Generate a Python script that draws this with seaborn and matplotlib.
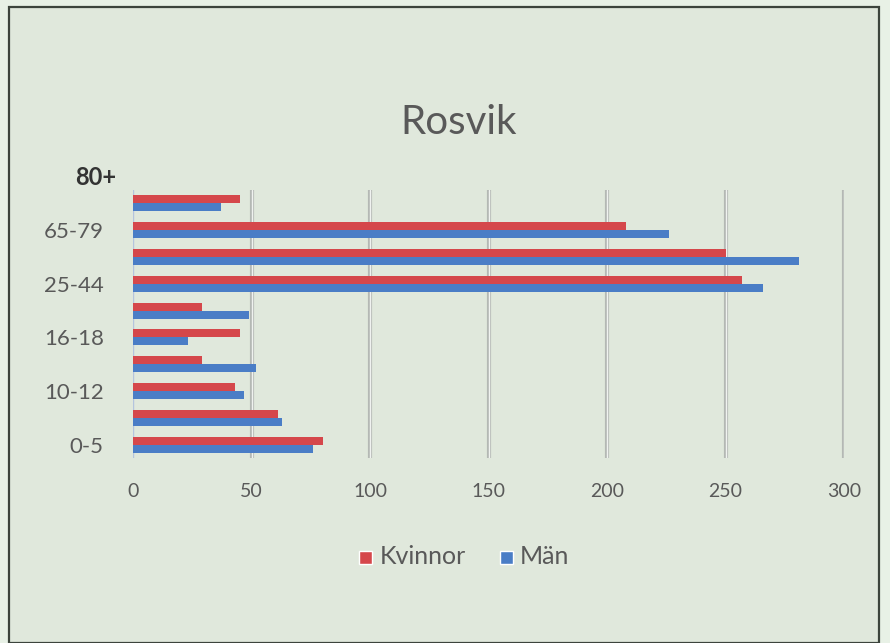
import pandas as pd
import seaborn as sns
import matplotlib.pyplot as plt
from matplotlib.patches import Rectangle

# data (top to bottom)
groups = ["80+", "65-79", "45-64", "25-44", "19-24", "16-18", "13-15", "10-12", "6-9", "0-5"]
kvinnor = [45, 208, 250, 257, 29, 45, 29, 43, 61, 80]
man = [37, 226, 281, 266, 49, 23, 52, 47, 63, 76]
shown_labels = ["", "65-79", "", "25-44", "", "16-18", "", "10-12", "", "0-5"]

df = pd.DataFrame({
    "grupp": groups * 2,
    "antal": kvinnor + man,
    "kon": ["Kvinnor"] * len(groups) + ["Män"] * len(groups),
})

sns.set_style("white")
plt.rcParams['font.family'] = ['Lato', 'DejaVu Sans']

fig = plt.figure(figsize=(8.9, 6.43), dpi=100)
fig.patch.set_facecolor("#e8f1e6")
# inner panel with dark frame
fig.patches.append(Rectangle((9 / 890, 0), 870 / 890, 1 - 7 / 643, transform=fig.transFigure,
                             facecolor="#e0e8dc", edgecolor="#3c443c", linewidth=1.6, zorder=-5))

ax = fig.add_axes([133 / 890, 1 - 458 / 643, 711 / 890, 268 / 643])
ax.set_facecolor("none")
ax.set_zorder(2)

sns.barplot(data=df, x="antal", y="grupp", hue="kon", order=groups,
            hue_order=["Kvinnor", "Män"], palette=["#d5474b", "#4a7dc6"],
            width=0.6, ax=ax, legend=False, saturation=1, linewidth=0)

ax.set_xlim(0, 300)
xt = [0, 50, 100, 150, 200, 250, 300]
ax.set_xticks(xt)
for v in xt[1:]:
    ax.axvline(v, color="#b4b8b4", linewidth=3, zorder=0)
    ax.axvline(v, color="#f0f2f0", linewidth=1, zorder=0.5)
for s in ax.spines.values():
    s.set_visible(False)
ax.axvline(0, color="#b4c4de", linewidth=1, zorder=0)

ax.set_yticks(range(len(groups)))
ax.set_yticklabels(shown_labels)
ax.tick_params(axis="both", length=0, labelcolor="#595959")
ax.tick_params(axis="y", pad=21, labelsize=16)
ax.tick_params(axis="x", pad=18, labelsize=14)
ax.set_xlabel("")
ax.set_ylabel("")

fig.text(96 / 890, 1 - 178 / 643, "80+", ha="center", va="center", fontsize=17,
         fontweight="bold", color="#333333")
fig.text(459 / 890, 1 - 123 / 643, "Rosvik", ha="center", va="center", fontsize=29,
         color="#595959")

# legend
fig.patches.append(Rectangle((359 / 890, 1 - 564 / 643), 13 / 890, 13 / 643,
                             transform=fig.transFigure, facecolor="#d5474b"))
fig.text(380 / 890, 1 - 557 / 643, "Kvinnor", ha="left", va="center", fontsize=18, color="#595959")
fig.patches.append(Rectangle((500 / 890, 1 - 564 / 643), 13 / 890, 13 / 643,
                             transform=fig.transFigure, facecolor="#4a7dc6"))
fig.text(520 / 890, 1 - 557 / 643, "Män", ha="left", va="center", fontsize=18, color="#595959")

fig.savefig("out.png", dpi=100, facecolor=fig.get_facecolor())
